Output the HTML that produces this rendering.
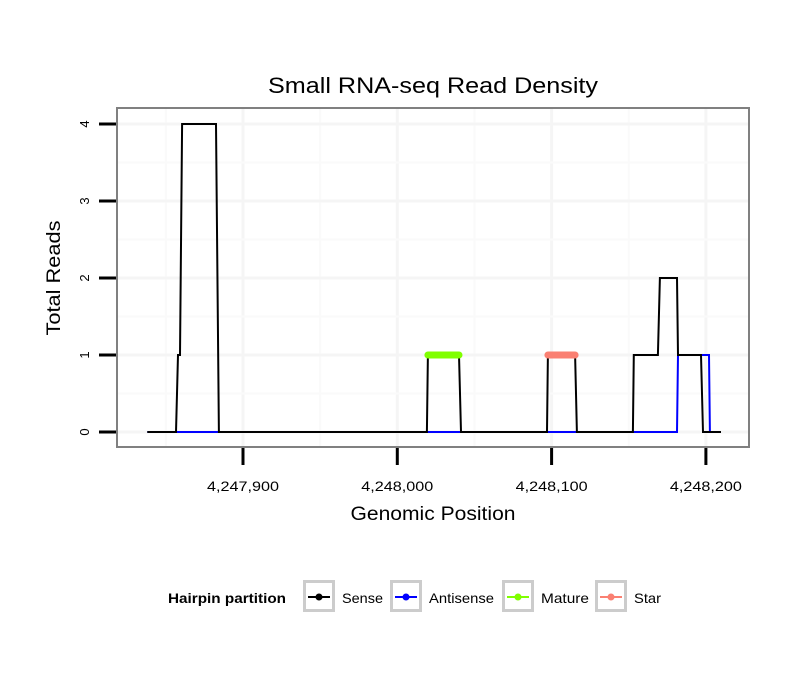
<!DOCTYPE html>
<html><head><meta charset="utf-8"><style>
body{margin:0;background:#fff}
svg{display:block;font-family:"Liberation Sans",sans-serif}
</style></head><body>
<svg id="chart" width="810" height="690">
<rect width="810" height="690" fill="#fff"/>
<text x="433" y="93" text-anchor="middle" font-size="22" textLength="330" lengthAdjust="spacingAndGlyphs">Small RNA-seq Read Density</text>
<g id="grid"></g>
<g id="series"></g>
<rect x="117" y="108" width="632" height="339" fill="none" stroke="#808080" stroke-width="2"/>
<g id="axes"></g>
<text x="433" y="520" text-anchor="middle" font-size="19" textLength="165" lengthAdjust="spacingAndGlyphs">Genomic Position</text>
<text transform="translate(60,278) rotate(-90)" text-anchor="middle" font-size="19" textLength="115" lengthAdjust="spacingAndGlyphs">Total Reads</text>
<g id="legend">
<text x="168" y="603" font-size="14" font-weight="bold" textLength="118" lengthAdjust="spacingAndGlyphs">Hairpin partition</text>
</g>
</svg>
<script>
const senseX=[4247838,4247856.6,4247857.9,4247859.2,4247860.5,4247882.5,4247884.4,4248019.2,4248019.8,4248040,4248041.3,4248097,4248097.6,4248115.2,4248116.4,4248152.7,4248153.3,4248168.9,4248170.2,4248181.3,4248181.9,4248196.8,4248198.1,4248209.8];
const senseY=[0,0,1,1,4,4,0,0,1,1,0,0,1,1,0,0,1,1,2,2,1,1,0,0];
const antiX=[4247838,4248181.3,4248181.9,4248202,4248202.6,4248209.8];
const antiY=[0,0,1,1,0,0];
const matureX=[4248019.8,4248040];
const matureY=[1,1];
const starX=[4248097.6,4248115.2];
const starY=[1,1];
const xTicks=[4247900,4248000,4248100,4248200];
const xTickLabels=["4,247,900","4,248,000","4,248,100","4,248,200"];
const yTicks=[0,1,2,3,4];
const legendNames=["Sense","Antisense","Mature","Star"];
const legendColors=["#000000","#0000ff","#80ff00","#fa8072"];
const legendLens=[41,65,48,27];

const NS="http://www.w3.org/2000/svg";
const xs=v=>243+(v-4247900)*1.543;
const ys=v=>432-v*77;
function mk(tag,attrs,parent){const e=document.createElementNS(NS,tag);for(const k in attrs)e.setAttribute(k,attrs[k]);document.getElementById(parent).appendChild(e);return e;}
for(let i=0;i<xTicks.length;i++){
  let g=mk('line',{x1:xs(xTicks[i]),x2:xs(xTicks[i]),y1:109,y2:446,stroke:'#f5f5f5','stroke-width':3},'grid');
  
  
  let m=mk('line',{x1:xs(xTicks[i]-50),x2:xs(xTicks[i]-50),y1:109,y2:446,stroke:'#fafafa','stroke-width':2},'grid');
  
  
}
for(let i=0;i<yTicks.length;i++){
  let g=mk('line',{x1:118,x2:748,y1:ys(yTicks[i]),y2:ys(yTicks[i]),stroke:'#f5f5f5','stroke-width':3},'grid');
  
  
  if(i<yTicks.length-1){
  let m=mk('line',{x1:118,x2:748,y1:ys(yTicks[i]+0.5),y2:ys(yTicks[i]+0.5),stroke:'#fafafa','stroke-width':2},'grid');
  
  }
}
function line(X,Y,color,w,name){
  const pts=X.map((x,i)=>xs(x).toFixed(1)+','+ys(Y[i]).toFixed(1)).join(' ');
  const p=mk('polyline',{points:pts,fill:'none',stroke:color,'stroke-width':w,'stroke-linejoin':'miter','stroke-linecap':w>3?'round':'butt'},'series');
  
  
}
line(antiX,antiY,'#0000ff',2,'antisense-line');
line(senseX,senseY,'#000000',2,'sense-line');
line(matureX,matureY,'#80ff00',7,'mature-line');
line(starX,starY,'#fa8072',7,'star-line');
for(let i=0;i<xTicks.length;i++){
  const t=mk('line',{x1:xs(xTicks[i]),x2:xs(xTicks[i]),y1:448,y2:465,stroke:'#000','stroke-width':3},'axes');
  
  
  const l=mk('text',{x:xs(xTicks[i]),y:491,'text-anchor':'middle','font-size':14,textLength:72,lengthAdjust:'spacingAndGlyphs'},'axes');
  l.textContent=xTickLabels[i];
  
  
}
for(let i=0;i<yTicks.length;i++){
  const y=ys(yTicks[i]);
  const t=mk('line',{x1:99,x2:116,y1:y,y2:y,stroke:'#000','stroke-width':3},'axes');
  
  
  const l=mk('text',{transform:`translate(89,${y}) rotate(-90)`,'text-anchor':'middle','font-size':13},'axes');
  l.textContent=yTicks[i];
  
  
}
const boxX=[303,390,502,595];
for(let i=0;i<legendNames.length;i++){
  const bx=boxX[i];
  const b=mk('rect',{x:bx+1.5,y:581.5,width:29,height:29,fill:'#fff',stroke:'#cccccc','stroke-width':3},'legend');
  
  
  const l=mk('line',{x1:bx+5,x2:bx+27,y1:597,y2:597,stroke:legendColors[i],'stroke-width':2},'legend');
  
  
  const c=mk('circle',{cx:bx+16,cy:597,r:3.5,fill:legendColors[i]},'legend');
  
  
  const t=mk('text',{x:bx+39,y:603,'font-size':14,textLength:legendLens[i],lengthAdjust:'spacingAndGlyphs'},'legend');
  t.textContent=legendNames[i];
  
  
}
</script>
</body></html>
